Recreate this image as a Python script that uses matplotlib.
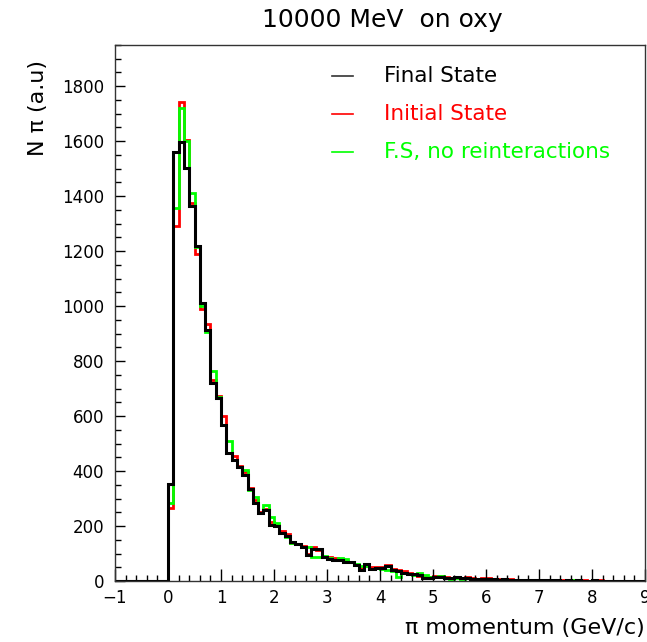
import numpy as np
import matplotlib
matplotlib.use("Agg")
import matplotlib.pyplot as plt
from matplotlib.ticker import MultipleLocator

# ---- data ----
bin_start = 0.0
bin_width = 0.1

final_state = [354, 1561, 1598, 1501, 1363, 1218, 1012, 912, 720, 666,
               566, 465, 441, 413, 386, 334, 283, 247, 259, 204,
               200, 174, 165, 143, 133, 124, 95, 116, 115, 88,
               80, 76, 77, 70, 70, 58, 40, 62, 44, 47,
               47, 56, 40, 36, 28, 26, 25, 22, 10, 12,
               16, 16, 10, 12, 16, 10, 12, 8, 7, 9,
               6, 7, 5, 6, 4, 5, 3, 4, 3, 2,
               3, 2, 3, 2, 1, 2, 1, 2, 1, 1,
               2, 1, 1, 0, 1, 1, 0, 1, 0, 0]

initial_state = [265, 1291, 1741, 1605, 1376, 1190, 990, 935, 730, 672,
                 601, 465, 455, 420, 395, 338, 295, 250, 262, 216,
                 203, 183, 170, 140, 133, 128, 100, 125, 112, 86,
                 86, 82, 78, 72, 68, 60, 48, 58, 50, 52,
                 50, 60, 42, 40, 36, 28, 26, 20, 15, 14,
                 20, 20, 14, 12, 14, 12, 14, 10, 8, 10,
                 10, 8, 6, 5, 6, 4, 5, 3, 4, 3,
                 2, 3, 2, 3, 2, 1, 2, 1, 2, 1,
                 1, 2, 1, 1, 0, 1, 1, 0, 1, 0]

fs_no_reint = [285, 1356, 1722, 1601, 1410, 1215, 1000, 905, 763, 670,
               566, 511, 440, 413, 404, 330, 307, 247, 277, 234,
               210, 176, 160, 137, 135, 123, 122, 89, 87, 91,
               82, 75, 85, 80, 68, 62, 55, 54, 44, 46,
               42, 40, 38, 16, 30, 26, 22, 28, 22, 16,
               16, 18, 12, 6, 10, 8, 10, 7, 6, 5,
               6, 4, 5, 3, 4, 3, 2, 3, 2, 3,
               1, 2, 1, 2, 1, 1, 2, 1, 1, 0,
               1, 1, 0, 1, 0, 1, 0, 0, 1, 0]

labels = ["Final State", "Initial State", "F.S, no reinteractions"]
colors = ["black", "#ff0000", "#00ff00"]
title = "10000 MeV  on oxy"
xlabel = "\u03c0 momentum (GeV/c)"
ylabel = "N \u03c0 (a.u)"

# ---- figure ----
W, H = 647, 642
fig = plt.figure(figsize=(W / 100, H / 100), dpi=100)
L, R, T, B = 115, 645, 45, 581
ax = fig.add_axes([L / W, 1 - B / H, (R - L) / W, (B - T) / H])

n = len(final_state)
edges = bin_start + bin_width * np.arange(n + 1)

ax.plot([-1, 0], [0, 0], color="black", lw=1.5)
ax.stairs(initial_state, edges, color=colors[1], lw=2.0, baseline=0)
ax.stairs(fs_no_reint, edges, color=colors[2], lw=2.0, baseline=0)
ax.stairs(final_state, edges, color=colors[0], lw=2.2, baseline=0)

ax.set_xlim(-1, 9)
ax.set_ylim(0, 1950)
ax.xaxis.set_major_locator(MultipleLocator(1))
ax.xaxis.set_minor_locator(MultipleLocator(0.2))
ax.yaxis.set_major_locator(MultipleLocator(200))
ax.yaxis.set_minor_locator(MultipleLocator(50))
ax.tick_params(which="both", direction="in", top=False, right=False, width=1)
ax.tick_params(axis="x", which="major", length=9, labelsize=12, pad=6)
ax.tick_params(axis="x", which="minor", length=4.5)
ax.tick_params(axis="y", which="major", length=7, labelsize=12, pad=8)
ax.tick_params(axis="y", which="minor", length=4)
ax.xaxis.set_major_formatter(matplotlib.ticker.FuncFormatter(
    lambda v, p: ("\u2212%d" % -v) if v < 0 else "%d" % v))
for sp in ax.spines.values():
    sp.set_linewidth(1.0)
    sp.set_color("#333333")

# legend drawn manually
leg_y = [76, 114, 152]
for lab, col, yy in zip(labels, colors, leg_y):
    yf = 1 - yy / H
    fig.add_artist(plt.Line2D([332 / W, 353 / W], [yf, yf], color=col,
                              lw=1.2, alpha=0.8 if col == "black" else 1))
    fig.text(384 / W, yf, lab, color=col, fontsize=15.5, va="center",
             ha="left", family="DejaVu Sans")

fig.text(382 / W, 1 - 20 / H, title, fontsize=18, ha="center",
         va="center", family="DejaVu Sans")
fig.text(645 / W, 1 - 628 / H, xlabel, fontsize=16, ha="right",
         va="center", family="DejaVu Sans")
fig.text(38 / W, 1 - 60 / H, ylabel, fontsize=16, ha="center",
         va="top", rotation=90, family="DejaVu Sans")

fig.savefig("out.png", dpi=100)
